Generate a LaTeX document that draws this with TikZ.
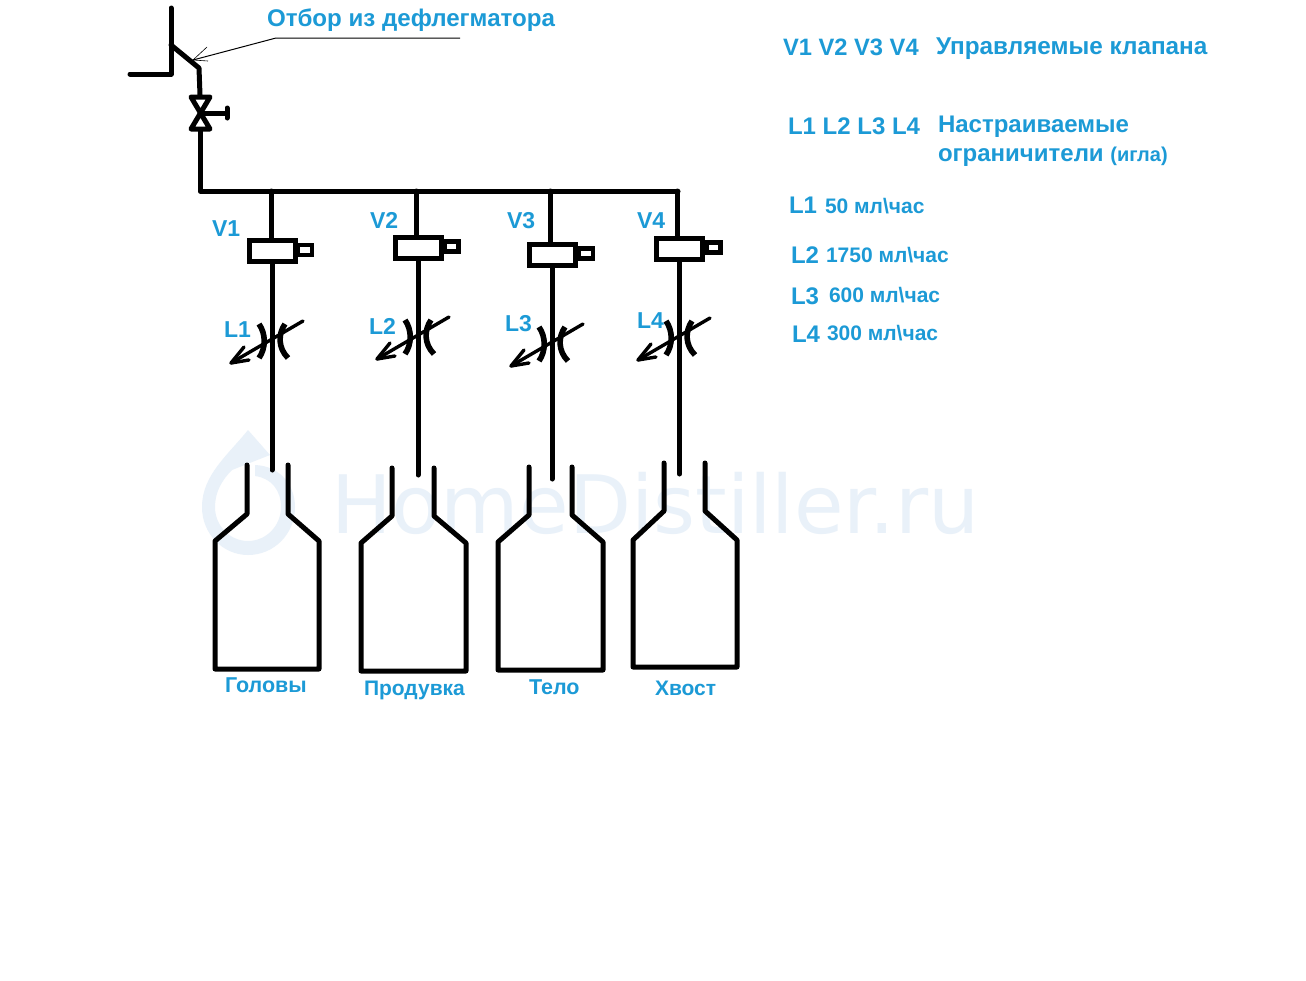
\documentclass[tikz,border=0pt]{standalone}
\usepackage{fontspec}
\setmainfont{Liberation Sans}
\newfontfamily\wmfont{DejaVu Sans}
\definecolor{lbl}{HTML}{1C9AD6}
\definecolor{wm}{HTML}{E9F1F9}
\tikzset{
  pipe/.style={line width=5pt,line cap=round,line join=round,black},
  thin lead/.style={line width=1pt,black},
  vbody/.style={draw=black,line width=5pt,fill=white,inner sep=0pt,outer sep=0pt,minimum width=46pt,minimum height=21pt},
  vtail/.style={draw=black,line width=4.6pt,fill=white,inner sep=0pt,outer sep=0pt,minimum width=14pt,minimum height=10pt},
  lab/.style={anchor=base west,inner sep=0pt,outer sep=0pt,text=lbl,font=\bfseries\fontsize{#1}{#1}\selectfont},
  regpipe/.style={line width=5.6pt,black},
  regarrow/.style={line width=3.4pt,line cap=round,line join=round,black}
}
\newcommand{\restrictor}[2]{%
  \begin{scope}[shift={(#1,#2)}]
    \draw[regpipe] (-13,-16) .. controls (-6,-6) and (-6,8) .. (-13,18);
    \draw[regpipe] (13,-16) .. controls (6,-6) and (6,8) .. (16,18);
    \draw[regarrow] (31,-19) -- (-41,23);
    \draw[regarrow] (-28,7) -- (-41,23) -- (-23,20);
  \end{scope}}
\begin{document}
\begin{tikzpicture}[x=1pt,y=-1pt]
\useasboundingbox (0,0) rectangle (1306,980);
\fill[white] (0,0) rectangle (1306,980);
% watermark
\fill[wm,even odd rule] (248,430) .. controls (228,455) and (202,475) .. (202,507)
  .. controls (202,534) and (223,555) .. (248,555)
  .. controls (274,555) and (295,534) .. (295,507)
  .. controls (295,485) and (280,466) .. (255,465)
  -- (255,476)
  .. controls (271,478) and (281,490) .. (281,507)
  .. controls (281,526) and (266,541) .. (248,541)
  .. controls (230,541) and (215,526) .. (215,507)
  .. controls (215,492) and (222,480) .. (232,470)
  -- (270,455) -- cycle;
\node[anchor=base west,inner sep=0pt,outer sep=0pt,text=wm,font=\wmfont\fontsize{80.6}{80.6}\selectfont] (wmark) at (331,533) {HomeDistiller.ru};
% inlet
\coordinate (top) at (171,8);
\coordinate (elbow) at (171,74);
\coordinate (stub) at (130,74);
\coordinate (tee) at (171,45);
\coordinate (bend) at (199,68);
\coordinate (vin) at (200,95);
\coordinate (vc) at (200,113);
\coordinate (vout) at (200,131);
\coordinate (busl) at (200,191);
\coordinate (busr) at (678,191);
\draw[pipe] (top) -- (elbow) -- (stub);
\draw[pipe] (tee) -- (bend) -- (vin);
\draw[pipe] (191,97) -- (210,97) -- (191,129) -- (210,129) -- cycle;
\draw[pipe] (vc) -- (227,113);
\draw[pipe] (227,108) -- (227,118);
\draw[pipe] (vout) -- (busl) -- (busr);
% leader
\coordinate (lead1) at (460,38);
\coordinate (lead2) at (276,38);
\coordinate (leadtip) at (193,60);
\draw[thin lead] (lead1) -- (lead2) -- (leadtip);
\draw[thin lead,line width=0.6pt] (207,47) -- (leadtip) -- (208,61);
% branches
\foreach \n/\ux/\lx/\cy/\tx/\ty/\ey in {
  1/271/272/251/305/250/470,
  2/416/418/247.5/451.5/246.5/475,
  3/550/552/254.5/586/253.5/479,
  4/677/679.5/248.5/713.5/247.5/474}{
  \coordinate (j\n) at (\ux,191);
  \coordinate (e\n) at (\lx,\ey);
  \node[vtail] (t\n) at (\tx,\ty) {};
  \draw[pipe] (j\n) -- (\ux,\cy);
  \draw[pipe] (\lx,\cy) -- (e\n);
  \node[vbody] (v\n) at (\lx,\cy) {};
}
\restrictor{272}{340}
\restrictor{418}{336}
\restrictor{552}{343}
\restrictor{679}{337}
% bottles
\draw[pipe] (247,465) -- (247,514) -- (215,541) -- (215,669) -- (319,669) -- (319,541) -- (288,514) -- (288,465);
\draw[pipe] (392,468) -- (392,516) -- (361,543) -- (361,671) -- (466,671) -- (466,543) -- (434,516) -- (434,468);
\draw[pipe] (529,467) -- (529,515) -- (498,542) -- (498,670) -- (603,670) -- (603,542) -- (572,515) -- (572,467);
\draw[pipe] (664,463) -- (664,511) -- (633,540) -- (633,667) -- (737,667) -- (737,540) -- (705,511) -- (705,463);
% labels
\node[lab=24.1] (n1) at (267,26) {Отбор из дефлегматора};
\node[lab=23] (n2) at (212,236) {V1};
\node[lab=23] (n3) at (370,228) {V2};
\node[lab=23] (n4) at (507,228) {V3};
\node[lab=23] (n5) at (637,228) {V4};
\node[lab=23] (n6) at (224,337) {L1};
\node[lab=23] (n7) at (369,334) {L2};
\node[lab=23] (n8) at (505,331) {L3};
\node[lab=23] (n9) at (637,328) {L4};
\node[lab=21.5] (n10) at (225,692) {Головы};
\node[lab=21] (n11) at (364,695) {Продувка};
\node[lab=21.5] (n12) at (529,694) {Тело};
\node[lab=21] (n13) at (655,695) {Хвост};
\node[lab=23.7] (n14) at (783,55) {V1 V2 V3 V4};
\node[lab=24.3] (n15) at (936,54) {Управляемые клапана};
\node[lab=24] (n16) at (788,134) {L1 L2 L3 L4};
\node[lab=24] (n17) at (938,132) {Настраиваемые};
\node[anchor=base west,inner sep=0pt,outer sep=0pt,text=lbl] (n18) at (938,161) {\bfseries\fontsize{24}{24}\selectfont ограничители \fontsize{20}{20}\selectfont (игла)};
\node[lab=24] (n19) at (789,213) {L1};
\node[lab=21] (n20) at (825,213) {50 мл\textbackslash час};
\node[lab=24] (n21) at (791,263) {L2};
\node[lab=21] (n22) at (826,262) {1750 мл\textbackslash час};
\node[lab=24] (n23) at (791,304) {L3};
\node[lab=21] (n24) at (829,302) {600 мл\textbackslash час};
\node[lab=24] (n25) at (792,342) {L4};
\node[lab=21] (n26) at (827,340) {300 мл\textbackslash час};
\end{tikzpicture}
\end{document}
